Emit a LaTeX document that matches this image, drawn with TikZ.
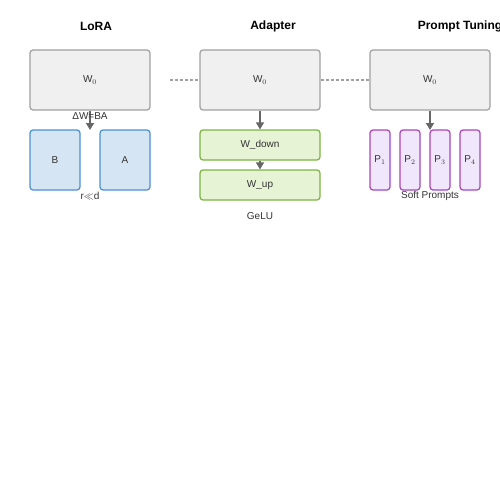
\documentclass[tikz,border=0pt]{standalone}
\usepackage{fontspec}
\setmainfont{Liberation Sans}
\usetikzlibrary{positioning,arrows.meta}
\definecolor{boxgray}{HTML}{F0F0F0}
\definecolor{linegray}{HTML}{A0A0A0}
\definecolor{arrowgray}{HTML}{666666}
\definecolor{txtgray}{HTML}{333333}
\definecolor{lorafill}{HTML}{D5E5F3}
\definecolor{loraline}{HTML}{4A90D9}
\definecolor{adafill}{HTML}{E6F3D5}
\definecolor{adaline}{HTML}{7CB342}
\definecolor{ptfill}{HTML}{F1E7FC}
\definecolor{ptline}{HTML}{AA44BB}
\tikzset{
  base/.style={rounded corners=3pt,line width=1.2pt,inner sep=0pt,font=\fontsize{10}{12}\selectfont,text=txtgray},
  wbox/.style={base,draw=linegray,fill=boxgray,minimum width=120pt,minimum height=60pt},
  lorabox/.style={base,draw=loraline,fill=lorafill,minimum width=50pt,minimum height=60pt},
  adabox/.style={base,draw=adaline,fill=adafill,minimum width=120pt,minimum height=30pt},
  ptbox/.style={base,draw=ptline,fill=ptfill,minimum width=20pt,minimum height=60pt},
  title/.style={font=\bfseries\fontsize{12}{14}\selectfont,text=black},
  note/.style={font=\fontsize{10}{12}\selectfont,text=txtgray,inner sep=0pt},
  flow/.style={draw=arrowgray,line width=1.5pt,-{Triangle[width=8pt,length=7pt]}},
  link/.style={draw=linegray,line width=1.2pt,dash pattern=on 3pt off 2pt}
}
\begin{document}
\begin{tikzpicture}[x=1pt,y=-1pt]
\useasboundingbox (0,0) rectangle (500,500);
% titles
\node[title] (tlora) at (96,26) {LoRA};
\node[title] (tada) at (273,26) {Adapter};
\node[title] (tpt) at (460,26) {Prompt Tuning};
% frozen weights
\node[wbox] (wlora) at (90,80) {W$_0$};
\node[wbox] (wada) at (260,80) {W$_0$};
\node[wbox] (wpt) at (430,80) {W$_0$};
\coordinate (dl) at (170,80);
\draw[link] (dl) -- (wada.west);
\draw[link] (wada.east) -- (wpt.west);
% LoRA
\node[lorabox] (b) at (55,160) {B};
\node[lorabox] (a) at (125,160) {A};
\coordinate (lend) at (90,130);
\draw[flow] (wlora.south) -- (lend);
\node[note] (dw) at (90,116) {ΔW=BA};
\node[note] (rank) at (90,196) {r$\ll$d};
% Adapter
\node[adabox] (wdown) at (260,145) {W\_down};
\node[adabox] (wup) at (260,185) {W\_up};
\draw[flow] (wada.south) -- (wdown.north);
\draw[flow] (wdown.south) -- (wup.north);
\node[note] (gelu) at (260,216) {GeLU};
% Prompt tuning
\foreach \i/\x in {1/380,2/410,3/440,4/470}
  \node[ptbox] (p\i) at (\x,160) {P$_{\i}$};
\coordinate (pend) at (430,130);
\draw[flow] (wpt.south) -- (pend);
\node[note] (soft) at (430,196) {Soft Prompts};
\end{tikzpicture}
\end{document}
